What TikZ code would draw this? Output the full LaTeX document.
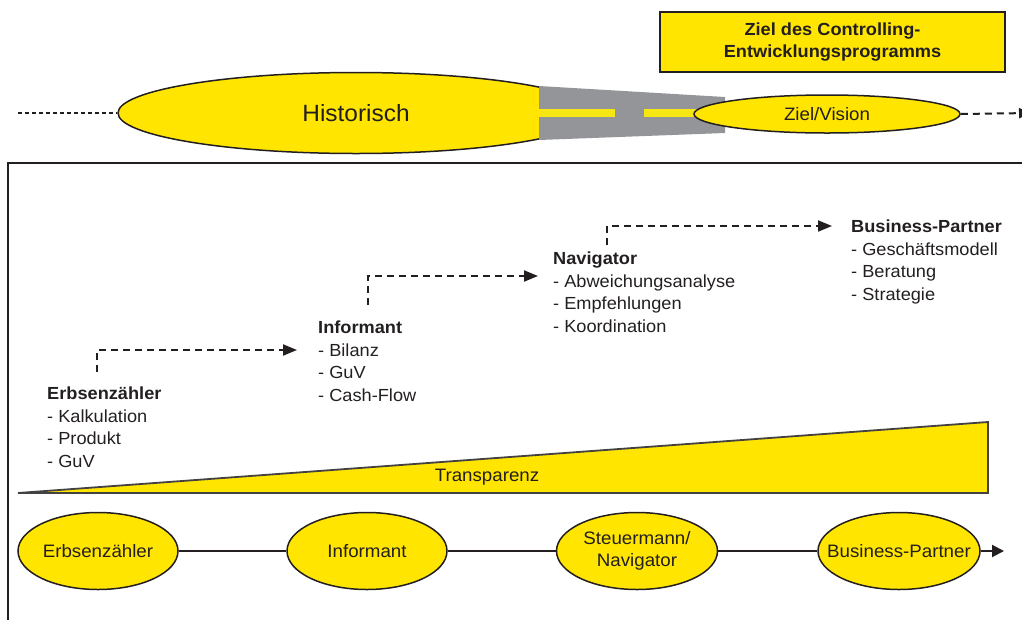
\documentclass[tikz,border=0pt]{standalone}
\usepackage{fontspec}
\setmainfont{Liberation Sans}[FakeStretch=1.04]
\usetikzlibrary{shapes.geometric,arrows.meta}
\definecolor{yel}{HTML}{FFE500}
\definecolor{ink}{HTML}{231F20}
\definecolor{road}{HTML}{939598}
\definecolor{lane}{HTML}{F5E614}
\tikzset{
  yellipse/.style={ellipse,draw=ink,fill=yel,line width=1.5pt,inner sep=0pt,text=ink},
  txtblock/.style={anchor=north west,align=left,inner sep=0pt,text=ink,font=\fontsize{17.5}{22.5}\selectfont},
  stepline/.style={draw=ink,line width=2pt,dash pattern=on 7pt off 5pt,-{Triangle[length=14pt,width=11pt]}},
  chain/.style={draw=ink,line width=2pt}
}
\begin{document}
\begin{tikzpicture}[x=1pt,y=-1pt]
\useasboundingbox (0,0) rectangle (1022,619);
% top goal box
\node[draw=ink,fill=yel,line width=1.5pt,minimum width=345pt,minimum height=60pt,inner sep=0pt,align=center,text=ink,font=\bfseries\fontsize{17.5}{22}\selectfont] (goal) at (832.5,42) {Ziel des Controlling-\\Entwicklungsprogramms};
% historic ellipse
\node[yellipse,minimum width=476pt,minimum height=81pt] (hist) at (356,113) {};
% road
\fill[road] (539,86) -- (725,97) -- (725,133) -- (539,140) -- cycle;
\fill[lane] (539,109) rectangle (615,117);
\fill[lane] (644,109) rectangle (700,117);
\node[text=ink,font=\fontsize{23.5}{26}\selectfont] (histtxt) at (356,113) {Historisch};
% vision ellipse
\node[yellipse,minimum width=266pt,minimum height=38pt,font=\fontsize{18}{20}\selectfont] (vision) at (827,114) {Ziel/Vision};
\coordinate (leftend) at (18,113);
\coordinate (rightend) at (1031,113);
\draw[ink,line width=1.2pt,dash pattern=on 4pt off 3pt] (leftend) -- (hist.west);
\draw[ink,line width=2pt,dash pattern=on 7pt off 5pt,-{Triangle[length=12pt,width=10pt]}] (vision.east) -- (rightend);
% frame
\draw[ink,line width=2.5pt] (8,630) -- (8,163) -- (1030,163);
% text blocks
\node[txtblock] (t1) at (47,387) {\textbf{Erbsenzähler}\\- Kalkulation\\- Produkt\\- GuV};
\node[txtblock] (t2) at (318,321) {\textbf{Informant}\\- Bilanz\\- GuV\\- Cash-Flow};
\node[txtblock] (t3) at (553,252) {\textbf{Navigator}\\- Abweichungsanalyse\\- Empfehlungen\\- Koordination};
\node[txtblock] (t4) at (851,220) {\textbf{Business-Partner}\\- Geschäftsmodell\\- Beratung\\- Strategie};
% step arrows
\coordinate (s1) at (97,372); \coordinate (e1) at (297,350);
\coordinate (s2) at (368,305); \coordinate (e2) at (538,276);
\coordinate (s3) at (607,245); \coordinate (e3) at (832,226);
\draw[stepline] (s1) |- (e1);
\draw[stepline] (s2) |- (e2);
\draw[stepline] (s3) |- (e3);
% transparency wedge
\coordinate (w1) at (18,493); \coordinate (w2) at (988,422); \coordinate (w3) at (988,493);
\draw[draw=ink!85,fill=yel,line width=1.8pt,line join=miter] (w1) -- (w2) -- (w3) -- cycle;
\node[text=ink,font=\fontsize{18}{20}\selectfont] (transp) at (487,477) {Transparenz};
% bottom chain
\node[yellipse,minimum width=160pt,minimum height=77pt,font=\fontsize{18}{20}\selectfont] (b1) at (98,551) {\makebox[0pt]{Erbsenzähler}};
\node[yellipse,minimum width=160pt,minimum height=77pt,font=\fontsize{18}{20}\selectfont] (b2) at (367,551) {\makebox[0pt]{Informant}};
\node[yellipse,minimum width=161pt,minimum height=77pt,align=center,font=\fontsize{18}{22}\selectfont] (b3) at (637,551) {\makebox[0pt]{Steuermann/}\\\makebox[0pt]{Navigator}};
\node[yellipse,minimum width=162pt,minimum height=77pt,font=\fontsize{18}{20}\selectfont] (b4) at (899,551) {\makebox[0pt]{Business-Partner}};
\coordinate (bend) at (1004,551);
\draw[chain] (b1) -- (b2);
\draw[chain] (b2) -- (b3);
\draw[chain] (b3) -- (b4);
\draw[chain,-{Triangle[length=12pt,width=12pt]}] (b4) -- (bend);
\end{tikzpicture}
\end{document}
